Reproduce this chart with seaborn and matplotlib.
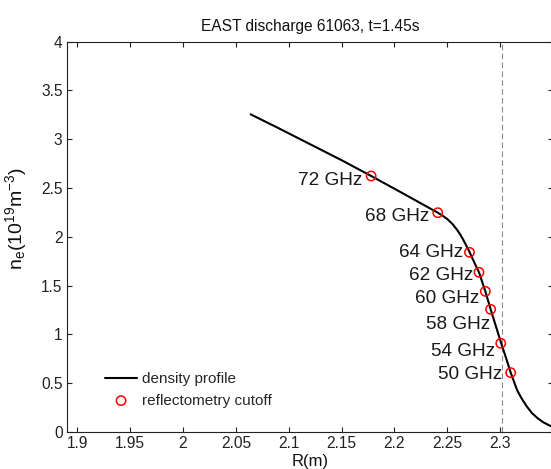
import seaborn as sns
import matplotlib.pyplot as plt

# density profile
radius = [2.064, 2.090, 2.120, 2.150, 2.178, 2.208, 2.241, 2.245, 2.250, 2.255,
          2.259, 2.262, 2.265, 2.268, 2.271, 2.275, 2.280, 2.286, 2.291, 2.296,
          2.301, 2.306, 2.310, 2.316, 2.320, 2.325, 2.330, 2.335, 2.341, 2.348]
density = [3.255, 3.115, 2.950, 2.785, 2.623, 2.445, 2.247, 2.220, 2.182, 2.130,
           2.075, 2.028, 1.972, 1.910, 1.845, 1.750, 1.636, 1.441, 1.257, 1.083,
           0.909, 0.745, 0.608, 0.430, 0.350, 0.265, 0.195, 0.145, 0.098, 0.060]

# reflectometry cutoff positions
cutoff_labels = ['72 GHz', '68 GHz', '64 GHz', '62 GHz', '60 GHz', '58 GHz', '54 GHz', '50 GHz']
cutoff_r = [2.178, 2.241, 2.271, 2.280, 2.286, 2.291, 2.3006, 2.310]
cutoff_ne = [2.623, 2.247, 1.841, 1.636, 1.441, 1.257, 0.909, 0.608]

separatrix_r = 2.302

# label offsets (pixels: right edge dx, caps centre dy downwards)
label_offsets = [(-9, 2), (-8, 1), (-6, -2), (-6, 1), (-6, 5), (0, 13), (-6, 6), (-8, -1)]

# aesthetics pre-update
sns.set_theme(style='ticks')
plt.rcParams['font.family'] = ['Liberation Sans', 'DejaVu Sans']
plt.rcParams['mathtext.default'] = 'regular'
plt.rcParams['xtick.direction'] = 'in'
plt.rcParams['ytick.direction'] = 'in'

fig = plt.figure(figsize=(5.51, 4.69), dpi=100)
ax = fig.add_axes([66.7 / 551, 37 / 469, (553 - 66.7) / 551, 390.4 / 469])

sns.lineplot(x=radius, y=density, color='black', linewidth=1.5, ax=ax,
             label='density profile')
sns.scatterplot(x=cutoff_r, y=cutoff_ne, marker='o', s=45, facecolors='none',
                edgecolor='red', linewidth=1.1, ax=ax, label='reflectometry cutoff',
                zorder=3)
ax.axvline(separatrix_r, color='0.55', linewidth=0.8, linestyle=(0, (5, 3)), zorder=1)

for lab, r, n, (dx, dy) in zip(cutoff_labels, cutoff_r, cutoff_ne, label_offsets):
    ax.annotate(lab, xy=(r, n), xytext=(dx, -(dy + 7)), textcoords='offset pixels',
                ha='right', va='baseline', fontsize=13.7, color='#1a1a1a')

ax.set_xlim(1.89, 2.35)
ax.set_ylim(0, 4)
ax.set_xticks([1.9, 1.95, 2, 2.05, 2.1, 2.15, 2.2, 2.25, 2.3])
ax.set_xticklabels(['1.9', '1.95', '2', '2.05', '2.1', '2.15', '2.2', '2.25', '2.3'])
ax.set_yticks([0, 0.5, 1, 1.5, 2, 2.5, 3, 3.5, 4])
ax.set_yticklabels(['0', '0.5', '1', '1.5', '2', '2.5', '3', '3.5', '4'])
ax.tick_params(which='both', top=True, right=True, length=3.6, width=0.8,
               labelsize=11.2, colors='#222222', pad=3)

for side in ['left', 'right', 'top', 'bottom']:
    ax.spines[side].set_visible(True)
    ax.spines[side].set_linewidth(0.8)
    ax.spines[side].set_color('#222222')

ax.set_title('EAST discharge 61063, t=1.45s', fontsize=11.2, pad=7.8, color='#111111')
ax.set_xlabel('R(m)', fontsize=12, labelpad=2, color='#111111')
ax.set_ylabel(r'n$_e$(10$^{19}$m$^{-3}$)', fontsize=14, color='#111111')
ax.yaxis.set_label_coords(-0.0775, 0.548)

ax.legend(loc='upper left', bbox_to_anchor=(105 / 551, 1 - 372 / 469),
          bbox_transform=fig.transFigure, frameon=False, fontsize=11,
          handlelength=2.1, handletextpad=0.3, borderpad=0, borderaxespad=0,
          labelspacing=0.5)

fig.savefig('out.png', dpi=100)
plt.close()
